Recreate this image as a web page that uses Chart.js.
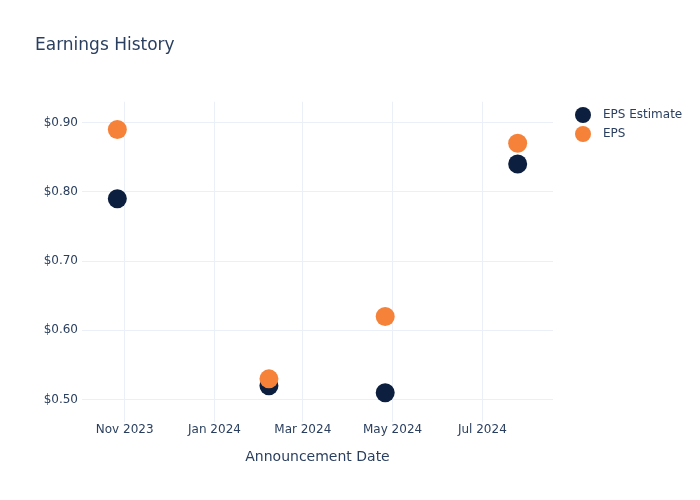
<!DOCTYPE html>
<html>
<head>
<meta charset="utf-8">
<script src="https://cdn.jsdelivr.net/npm/chart.js@4/dist/chart.umd.min.js"></script>
<style>
  html, body { margin: 0; padding: 0; background: #fff; }
</style>
</head>
<body>
<canvas id="chart" width="700" height="500"></canvas>
<script>
// announcement dates and eps values
const dates = ['2023-10-27', '2024-02-07', '2024-04-26', '2024-07-25'];
const epsEstimate = [0.79, 0.52, 0.51, 0.84];
const epsActual = [0.89, 0.53, 0.62, 0.87];
const xTickDates = ['2023-11-01', '2024-01-01', '2024-03-01', '2024-05-01', '2024-07-01'];
const yTickValues = [0.5, 0.6, 0.7, 0.8, 0.9];
const monthNames = ['Jan','Feb','Mar','Apr','May','Jun','Jul','Aug','Sep','Oct','Nov','Dec'];

const toTime = s => Date.parse(s + 'T00:00:00Z');
const navy = '#0c1f3f';
const orange = '#f6823a';
const textColor = '#2a3f5f';
const gridColor = '#ebf0f8';
Chart.defaults.font.family = '"DejaVu Sans", Verdana, sans-serif';

// simple legend on the right, drawn by hand so spacing matches
const sideLegend = {
  id: 'sideLegend',
  afterDraw(chart) {
    const ctx = chart.ctx;
    ctx.save();
    ctx.font = '12px "DejaVu Sans"';
    ctx.textBaseline = 'middle';
    chart.data.datasets.forEach((ds, i) => {
      const y = 115 + i * 19;
      ctx.fillStyle = ds.backgroundColor;
      ctx.beginPath();
      ctx.arc(583, y, 8, 0, Math.PI * 2);
      ctx.fill();
      ctx.fillStyle = textColor;
      ctx.fillText(ds.label, 603, y);
    });
    ctx.restore();
  }
};

new Chart(document.getElementById('chart'), {
  type: 'scatter',
  data: {
    datasets: [{
      label: 'EPS Estimate',
      data: dates.map((d, i) => ({x: toTime(d), y: epsEstimate[i]})),
      backgroundColor: navy,
      borderWidth: 0,
      pointRadius: 9.5,
      pointHoverRadius: 9.5,
      order: 1
    }, {
      label: 'EPS',
      data: dates.map((d, i) => ({x: toTime(d), y: epsActual[i]})),
      backgroundColor: orange,
      borderWidth: 0,
      pointRadius: 9.5,
      pointHoverRadius: 9.5,
      order: 0
    }]
  },
  options: {
    responsive: false,
    animation: false,
    layout: { padding: { left: 35, right: 147, top: 35, bottom: 34 } },
    plugins: {
      legend: { display: false },
      tooltip: { enabled: false },
      title: {
        display: true,
        text: 'Earnings History',
        align: 'start',
        color: textColor,
        font: { size: 17, weight: 'normal' },
        padding: { top: 0, bottom: 46.3 }
      }
    },
    scales: {
      x: {
        type: 'linear',
        min: toTime('2023-10-03'),
        max: toTime('2024-08-18'),
        afterBuildTicks: axis => { axis.ticks = xTickDates.map(d => ({value: toTime(d)})); },
        ticks: {
          color: textColor,
          font: { size: 12 },
          padding: 1,
          maxRotation: 0,
          callback: v => { const d = new Date(v); return monthNames[d.getUTCMonth()] + ' ' + d.getUTCFullYear(); }
        },
        grid: { color: gridColor, drawTicks: false },
        border: { display: false },
        title: {
          display: true,
          text: 'Announcement Date',
          color: textColor,
          font: { size: 14 },
          padding: { top: 11, bottom: 0 }
        }
      },
      y: {
        min: 0.468,
        max: 0.930,
        afterBuildTicks: axis => { axis.ticks = yTickValues.map(v => ({value: v})); },
        afterFit: axis => { axis.width = 47; },
        ticks: {
          color: textColor,
          font: { size: 12 },
          padding: 4,
          callback: v => '$' + v.toFixed(2)
        },
        grid: { color: gridColor, drawTicks: false },
        border: { display: false }
      }
    }
  },
  plugins: [sideLegend]
});
</script>
</body>
</html>
